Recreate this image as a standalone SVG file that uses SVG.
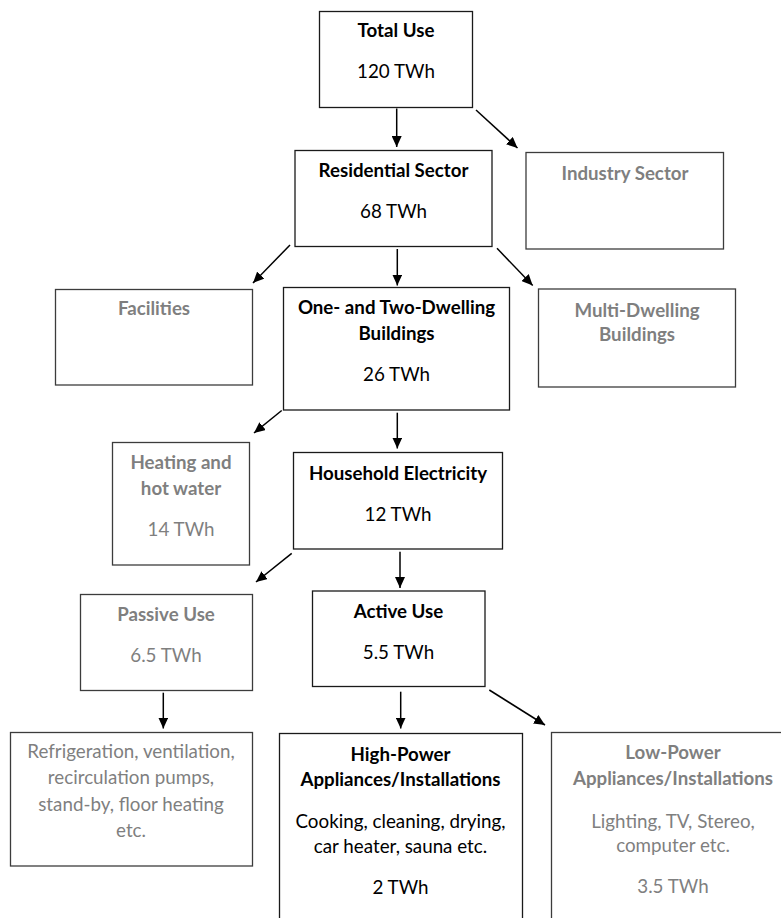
<svg xmlns="http://www.w3.org/2000/svg" width="781" height="918" viewBox="0 0 781 918">
<defs>
<marker id="ah" markerUnits="userSpaceOnUse" markerWidth="12" markerHeight="10" refX="11" refY="5" orient="auto">
<path d="M0,0 L11,5 L0,10 Z" fill="#000"/>
</marker>
<style>
.bk rect{fill:#fff;stroke:#1a1a1a;stroke-width:1.3}
.gy rect{fill:#fff;stroke:#3c3c3c;stroke-width:1.3}
text{font-family:Lato,"Liberation Sans",sans-serif;text-anchor:middle;font-size:18.8px}
.bk text{fill:#000}
.gy text{fill:#7f7f7f}
.b{font-weight:bold;font-size:18.7px}
#connectors line{stroke:#000;stroke-width:1.5;marker-end:url(#ah)}
</style>
</defs>
<rect width="781" height="918" fill="#fff"/>
<g id="total" class="bk"><rect x="319.5" y="11.5" width="153" height="96"/><text x="396" y="37" class="b">Total Use</text><text x="396" y="78">120 TWh</text></g>
<g id="residential" class="bk"><rect x="295" y="150.5" width="197" height="96"/><text x="393.5" y="177" class="b">Residential Sector</text><text x="393.5" y="218">68 TWh</text></g>
<g id="industry" class="gy"><rect x="526" y="152.5" width="197.5" height="96.5"/><text x="625" y="179.5" class="b">Industry Sector</text></g>
<g id="facilities" class="gy"><rect x="55.5" y="289.5" width="197" height="95.5"/><text x="154" y="315" class="b">Facilities</text></g>
<g id="onetwo" class="bk"><rect x="283.5" y="287.5" width="226" height="122.5"/><text x="396.5" y="314" class="b">One- and Two-Dwelling</text><text x="396.5" y="340" class="b">Buildings</text><text x="396.5" y="380.5">26 TWh</text></g>
<g id="multi" class="gy"><rect x="538.5" y="289" width="197" height="98"/><text x="637" y="316.5" class="b">Multi-Dwelling</text><text x="637" y="341" class="b">Buildings</text></g>
<g id="heating" class="gy"><rect x="112.5" y="442.5" width="137" height="122.5"/><text x="181" y="469" class="b">Heating and</text><text x="181" y="495" class="b">hot water</text><text x="181" y="536">14 TWh</text></g>
<g id="household" class="bk"><rect x="293.5" y="452.5" width="209" height="96.5"/><text x="398" y="479.5" class="b">Household Electricity</text><text x="398" y="520.5">12 TWh</text></g>
<g id="passive" class="gy"><rect x="80.5" y="594.5" width="172" height="96"/><text x="166" y="621" class="b">Passive Use</text><text x="166" y="662">6.5 TWh</text></g>
<g id="active" class="bk"><rect x="312.5" y="591" width="172.5" height="95.5"/><text x="398.5" y="617.5" class="b">Active Use</text><text x="398.5" y="658.5">5.5 TWh</text></g>
<g id="refrigeration" class="gy"><rect x="10.5" y="732.5" width="242" height="133.5"/><text x="131" y="758">Refrigeration, ventilation,</text><text x="131" y="784">recirculation pumps,</text><text x="131" y="810.5">stand-by, floor heating</text><text x="131" y="836.5">etc.</text></g>
<g id="highpower" class="bk"><rect x="279.5" y="733.5" width="243" height="200"/><text x="400.5" y="760.5" class="b">High-Power</text><text x="400.5" y="786" class="b">Appliances/Installations</text><text x="400.5" y="827.5">Cooking, cleaning, drying,</text><text x="400.5" y="853">car heater, sauna etc.</text><text x="400.5" y="894">2 TWh</text></g>
<g id="lowpower" class="gy"><rect x="551.5" y="732.5" width="244" height="200"/><text x="673" y="758.5" class="b">Low-Power</text><text x="673" y="784.5" class="b">Appliances/Installations</text><text x="673" y="827.5">Lighting, TV, Stereo,</text><text x="673" y="852">computer etc.</text><text x="673" y="893">3.5 TWh</text></g>
<g id="connectors">
<line x1="396.7" y1="108.5" x2="396.7" y2="147"/>
<line x1="476" y1="110" x2="517.5" y2="148"/>
<line x1="290" y1="245" x2="253" y2="283"/>
<line x1="397.3" y1="249" x2="397.3" y2="285.5"/>
<line x1="497" y1="248.3" x2="532.7" y2="285.5"/>
<line x1="281.7" y1="410.5" x2="254" y2="433"/>
<line x1="397.3" y1="412.7" x2="397.3" y2="448.5"/>
<line x1="291.7" y1="553.3" x2="256" y2="582"/>
<line x1="400" y1="551.7" x2="400" y2="588"/>
<line x1="163.3" y1="692.7" x2="163.3" y2="728.5"/>
<line x1="400.7" y1="691.7" x2="400.7" y2="728.5"/>
<line x1="489.3" y1="690" x2="545" y2="725"/>
</g>
</svg>
